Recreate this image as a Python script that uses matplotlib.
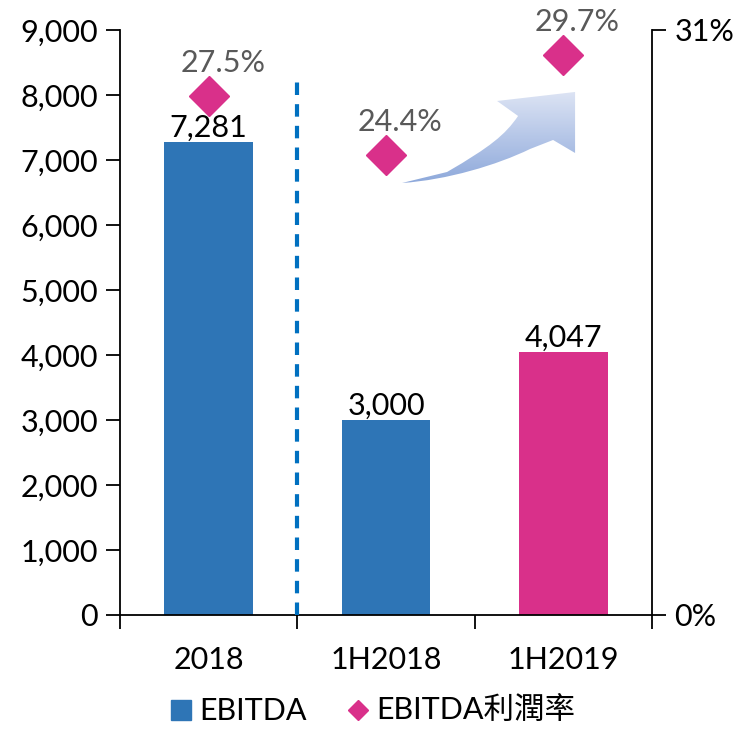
import numpy as np
import matplotlib.pyplot as plt
from matplotlib.path import Path
from matplotlib.patches import PathPatch
from matplotlib.lines import Line2D
from matplotlib.colors import LinearSegmentedColormap

plt.rcParams['font.family'] = ['Lato', 'Noto Sans CJK TC', 'DejaVu Sans']

categories = ["2018", "1H2018", "1H2019"]
ebitda = [7281, 3000, 4047]
margin = [27.5, 24.4, 29.7]
bar_colors = ["#2E75B6", "#2E75B6", "#D9308A"]

blue = "#2E75B6"
pink = "#D9308A"
fs = 22

fig = plt.figure(figsize=(7.41, 7.31), dpi=100)
ax = fig.add_axes([0.162, 0.1587, 0.718, 0.8003])
x = np.arange(len(categories))

ax.bar(x, ebitda, width=0.5, color=bar_colors, zorder=2)
for xi, v in zip(x, ebitda):
    ax.text(xi, v, f"{v:,}", ha="center", va="bottom", fontsize=fs)

ax.set_xlim(-0.5, 2.5)
ax.set_ylim(0, 9000)
ax.set_yticks(range(0, 9001, 1000))
ax.set_yticklabels([f"{v:,}" for v in range(0, 9001, 1000)], fontsize=fs)
ax.set_xticks(x)
ax.set_xticklabels(categories, fontsize=fs)
ax.set_xticks([-0.5, 0.5, 1.5, 2.5], minor=True)
ax.tick_params(axis="x", which="major", length=0, pad=22)
ax.tick_params(axis="x", which="minor", length=10, width=1.3, direction="out")
ax.tick_params(axis="y", length=10, width=1.3, direction="out", pad=6)
for s in ["top", "right"]:
    ax.spines[s].set_visible(False)
ax.spines["left"].set_linewidth(1.3)
ax.spines["bottom"].set_linewidth(1.3)

# dashed separator
ax.plot([0.5, 0.5], [0, 8250], ls=(0, (3, 2.2)), color="#0070C0", lw=3, zorder=3)

ax2 = ax.twinx()
ax2.set_ylim(0, 31)
ax2.set_yticks([0, 31])
ax2.set_yticklabels(["0%", "31%"], fontsize=fs)
ax2.tick_params(axis="y", length=10, width=1.3, direction="out", pad=6)
for s in ["top", "left", "bottom"]:
    ax2.spines[s].set_visible(False)
ax2.spines["right"].set_linewidth(1.3)
ax2.plot(x, margin, ls="none", marker="D", markersize=20, color=pink, zorder=4)
for xi, m in zip(x, margin):
    ax2.text(xi + 0.08, m + 1.0, f"{m:.1f}%", ha="center", va="bottom",
             fontsize=fs, color="#595959")

# curved gradient arrow (decoration), in axes fraction coordinates
def px(p):
    return ((p[0] - 120) / 532, (615 - p[1]) / 585)

pts = [(402, 183), (447, 180), (497, 165), (530, 149), (553, 140),
       (575, 153), (575, 92), (497, 101), (518, 116),
       (505, 135), (490, 147), (447, 172), (402, 183)]
verts = [px(p) for p in pts]
codes = [Path.MOVETO, Path.CURVE4, Path.CURVE4, Path.CURVE4,
         Path.LINETO, Path.LINETO, Path.LINETO, Path.LINETO,
         Path.LINETO, Path.CURVE4, Path.CURVE4, Path.CURVE4, Path.CLOSEPOLY]
path = Path(verts, codes)
patch = PathPatch(path, facecolor="none", edgecolor="none", transform=ax.transAxes)
ax.add_patch(patch)
cmap = LinearSegmentedColormap.from_list("g", ["#8EA9DB", "#DDE4F4"])
grad = np.linspace(0, 1, 256).reshape(-1, 1)
xs = [v[0] for v in verts]
ys = [v[1] for v in verts]
im = ax.imshow(grad, cmap=cmap, origin="lower", aspect="auto",
               extent=[min(xs), max(xs), min(ys), max(ys)],
               transform=ax.transAxes, zorder=3)
im.set_clip_path(patch)
ax.set_xlim(-0.5, 2.5)
ax.set_ylim(0, 9000)

handles = [Line2D([], [], ls="none", marker="s", markersize=14, color=blue),
           Line2D([], [], ls="none", marker="D", markersize=10, color=pink)]
fig.legend(handles, ["EBITDA", "EBITDA利潤率"], loc="lower center",
           bbox_to_anchor=(0.5, -0.03), ncol=2, frameon=False, fontsize=fs,
           handletextpad=0.1, columnspacing=1.2, handlelength=1.0)

fig.savefig("out.png", dpi=100)
